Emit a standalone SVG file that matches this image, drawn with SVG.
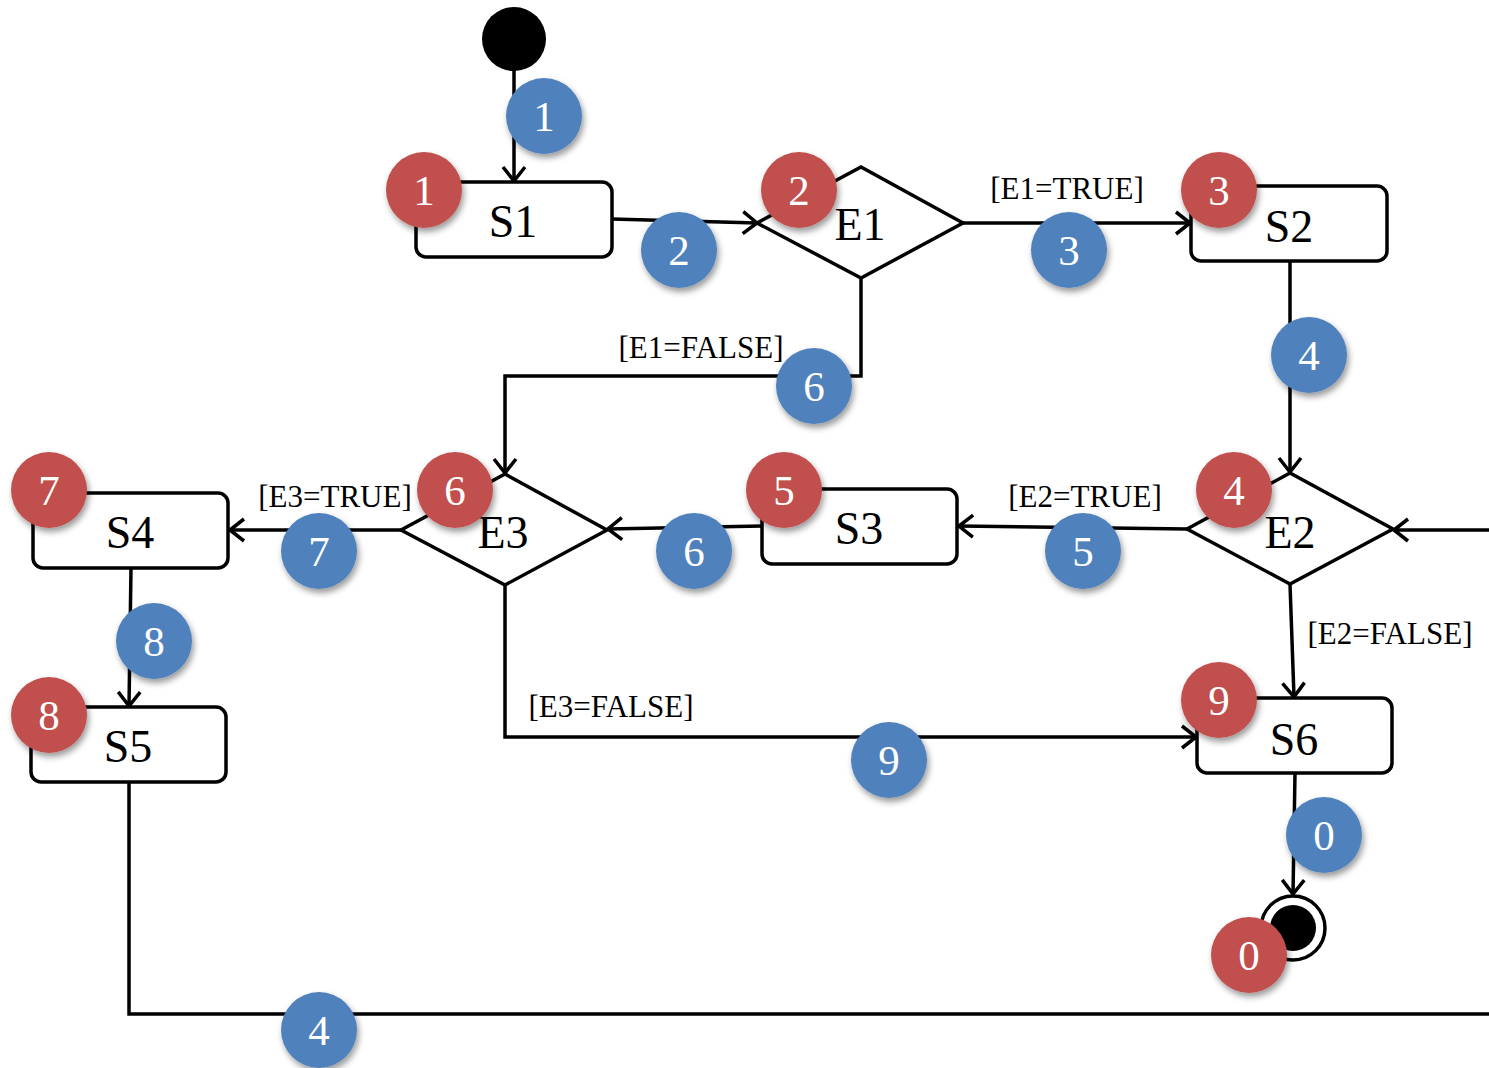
<svg xmlns="http://www.w3.org/2000/svg" width="1489" height="1068" viewBox="0 0 1489 1068">
<defs>
<marker id="arr" markerUnits="userSpaceOnUse" viewBox="0 0 18 26" refX="16" refY="13" markerWidth="18" markerHeight="26" orient="auto">
<path d="M2,2 L16,13 L2,24" fill="none" stroke="#000" stroke-width="3.5"/>
</marker>
<filter id="sh" x="-30%" y="-30%" width="170%" height="170%">
<feDropShadow dx="2" dy="4" stdDeviation="3" flood-color="#000" flood-opacity="0.4"/>
</filter>
</defs>
<style>
.st{fill:#fff;stroke:#000;stroke-width:3.5}
.nt{font-family:"Liberation Serif","Times New Roman",serif;font-size:46px;text-anchor:middle;fill:#000}
.lb{font-family:"Liberation Serif","Times New Roman",serif;font-size:31px;text-anchor:middle;fill:#000}
.cn{fill:none;stroke:#000;stroke-width:3.5}
.b{fill:#4F81BD;filter:url(#sh)}
.r{fill:#C0504D;filter:url(#sh)}
.num{font-family:"Liberation Serif","Times New Roman",serif;font-size:43px;text-anchor:middle;fill:#fff}
</style>
<rect width="1489" height="1068" fill="#fff"/>
<g id="connectors">
<path class="cn" d="M514,70 L514,181" marker-end="url(#arr)"/>
<path class="cn" d="M612,219 L757,223" marker-end="url(#arr)"/>
<path class="cn" d="M963,223 L1190,223" marker-end="url(#arr)"/>
<path class="cn" d="M1290,261 L1290,472" marker-end="url(#arr)"/>
<path class="cn" d="M1489,530 L1394,530" marker-end="url(#arr)"/>
<path class="cn" d="M1187,529 L959,526" marker-end="url(#arr)"/>
<path class="cn" d="M762,526 L608,529" marker-end="url(#arr)"/>
<path class="cn" d="M861,278 L861,376 L505,376 L505,473" marker-end="url(#arr)"/>
<path class="cn" d="M401,530 L230,530" marker-end="url(#arr)"/>
<path class="cn" d="M131,568 L129,706" marker-end="url(#arr)"/>
<path class="cn" d="M129,782 L129,1014 L1489,1014"/>
<path class="cn" d="M505,585 L505,737 L1196,737" marker-end="url(#arr)"/>
<path class="cn" d="M1290,584 L1294,697" marker-end="url(#arr)"/>
<path class="cn" d="M1295,773 L1293,894" marker-end="url(#arr)"/>
<text class="lb" x="1067" y="199">[E1=TRUE]</text>
<text class="lb" x="701" y="358">[E1=FALSE]</text>
<text class="lb" x="1085" y="507">[E2=TRUE]</text>
<text class="lb" x="335" y="507">[E3=TRUE]</text>
<text class="lb" x="611" y="717">[E3=FALSE]</text>
<text class="lb" x="1390" y="644">[E2=FALSE]</text>
</g>
<g id="start"><circle cx="514" cy="39" r="32" fill="#000"/></g>
<g id="S1"><rect class="st" x="416" y="182" width="196" height="75" rx="10"/><text class="nt" x="513" y="237">S1</text></g>
<g id="E1"><path class="st" d="M757,223 L861,167 L963,223 L861,278 Z"/><text class="nt" x="860" y="240">E1</text></g>
<g id="S2"><rect class="st" x="1191" y="186" width="196" height="75" rx="10"/><text class="nt" x="1289" y="242">S2</text></g>
<g id="E2"><path class="st" d="M1187,529 L1290,473 L1393,529 L1290,584 Z"/><text class="nt" x="1290" y="548">E2</text></g>
<g id="S3"><rect class="st" x="762" y="489" width="195" height="75" rx="10"/><text class="nt" x="859" y="544">S3</text></g>
<g id="E3"><path class="st" d="M401,530 L505,474 L607,530 L505,585 Z"/><text class="nt" x="503" y="548">E3</text></g>
<g id="S4"><rect class="st" x="33" y="493" width="195" height="75" rx="10"/><text class="nt" x="130" y="548">S4</text></g>
<g id="S5"><rect class="st" x="31" y="707" width="195" height="75" rx="10"/><text class="nt" x="128" y="762">S5</text></g>
<g id="S6"><rect class="st" x="1197" y="698" width="195" height="75" rx="10"/><text class="nt" x="1294" y="755">S6</text></g>
<g id="final"><circle cx="1293" cy="928" r="32" fill="#fff" stroke="#000" stroke-width="3.5"/><circle cx="1293" cy="928" r="23" fill="#000"/></g>
<g id="blue-badges">
<g><circle class="b" cx="544" cy="116" r="38"/><text class="num" x="544" y="131">1</text></g>
<g><circle class="b" cx="679" cy="250" r="38"/><text class="num" x="679" y="265">2</text></g>
<g><circle class="b" cx="1069" cy="250" r="38"/><text class="num" x="1069" y="265">3</text></g>
<g><circle class="b" cx="1309" cy="355" r="38"/><text class="num" x="1309" y="370">4</text></g>
<g><circle class="b" cx="1083" cy="551" r="38"/><text class="num" x="1083" y="566">5</text></g>
<g><circle class="b" cx="694" cy="551" r="38"/><text class="num" x="694" y="566">6</text></g>
<g><circle class="b" cx="814" cy="386" r="38"/><text class="num" x="814" y="401">6</text></g>
<g><circle class="b" cx="319" cy="551" r="38"/><text class="num" x="319" y="566">7</text></g>
<g><circle class="b" cx="154" cy="641" r="38"/><text class="num" x="154" y="656">8</text></g>
<g><circle class="b" cx="889" cy="760" r="38"/><text class="num" x="889" y="775">9</text></g>
<g><circle class="b" cx="1324" cy="835" r="38"/><text class="num" x="1324" y="850">0</text></g>
<g><circle class="b" cx="319" cy="1030" r="38"/><text class="num" x="319" y="1045">4</text></g>
</g>
<g id="red-badges">
<g><circle class="r" cx="424" cy="190" r="38"/><text class="num" x="424" y="205">1</text></g>
<g><circle class="r" cx="799" cy="190" r="38"/><text class="num" x="799" y="205">2</text></g>
<g><circle class="r" cx="1219" cy="190" r="38"/><text class="num" x="1219" y="205">3</text></g>
<g><circle class="r" cx="1234" cy="490" r="38"/><text class="num" x="1234" y="505">4</text></g>
<g><circle class="r" cx="784" cy="490" r="38"/><text class="num" x="784" y="505">5</text></g>
<g><circle class="r" cx="455" cy="490" r="38"/><text class="num" x="455" y="505">6</text></g>
<g><circle class="r" cx="49" cy="490" r="38"/><text class="num" x="49" y="505">7</text></g>
<g><circle class="r" cx="49" cy="715" r="38"/><text class="num" x="49" y="730">8</text></g>
<g><circle class="r" cx="1219" cy="700" r="38"/><text class="num" x="1219" y="715">9</text></g>
<g><circle class="r" cx="1249" cy="955" r="38"/><text class="num" x="1249" y="970">0</text></g>
</g>
</svg>
